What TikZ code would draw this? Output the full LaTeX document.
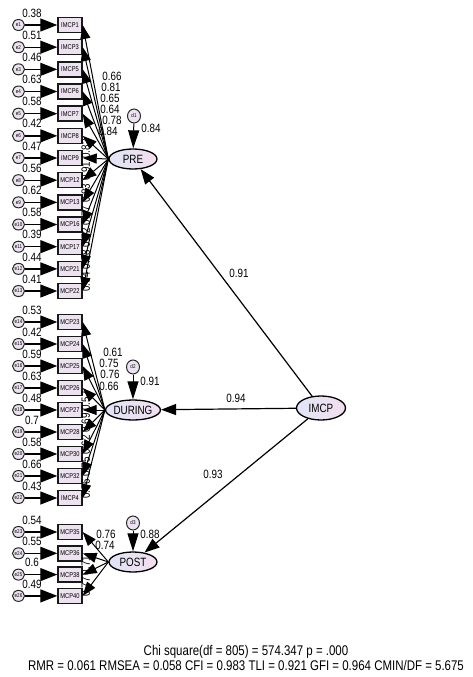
\documentclass[tikz,border=0pt]{standalone}
\usepackage{fontspec}
\setmainfont{Liberation Sans}[FakeStretch=0.82]
\usetikzlibrary{shapes,arrows.meta,positioning}
\definecolor{boxfill}{RGB}{237,226,240}
\definecolor{latblue}{RGB}{224,229,246}
\definecolor{latpink}{RGB}{242,222,238}

\begin{document}
\begin{tikzpicture}[
    x=1pt, y=-1pt,
    indicator/.style={rectangle, draw=black!90, line width=1.4pt, fill=boxfill, minimum width=24pt, minimum height=15pt, inner sep=0pt, font=\fontsize{7}{7}\selectfont},
    errterm/.style={ellipse, draw=black!85, line width=1pt, fill=boxfill, minimum width=12pt, minimum height=11pt, inner sep=0pt, font=\fontsize{5.5}{5.5}\selectfont},
    disturb/.style={errterm, minimum width=13pt, minimum height=14pt},
    latent/.style={ellipse, draw=black, line width=1.3pt, left color=latblue, right color=latpink, minimum width=48pt, minimum height=20pt, inner sep=0pt, font=\fontsize{12}{12}\selectfont},
    coef/.style={font=\fontsize{12}{12}\selectfont, inner sep=0pt},
    errarrow/.style={-{Triangle[length=17pt,width=13pt]}, line width=1.3pt},
    loadarrow/.style={-{Triangle[length=14pt,width=10pt]}, line width=1pt},
    disarrow/.style={-{Triangle[length=18pt,width=11pt]}, line width=1pt},
    patharrow/.style={-{Triangle[length=15pt,width=11pt]}, line width=1.2pt},
]
\useasboundingbox (0,0) rectangle (473,677);

% latent factors
\node[latent] (PRE) at (133,159) {PRE};
\node[latent] (DURING) at (133,410) {DURING};
\node[latent] (POST) at (133,562) {POST};
\node[latent, minimum width=49pt, minimum height=24pt] (IMCP) at (321,408) {IMCP};

% PRE block
\foreach \name/\var [count=\i] in {IMCP1/0.38, IMCP3/0.51, IMCP5/0.46, IMCP6/0.63, IMCP7/0.58, IMCP8/0.42, IMCP9/0.47, MCP12/0.56, MCP13/0.62, MCP16/0.58, MCP17/0.39, MCP21/0.44, MCP22/0.41} {
    \pgfmathsetmacro\ypos{25+22.17*(\i-1)}
    \node[indicator] (pre\i) at (70,\ypos) {\name};
    \node[errterm] (e\i) at (18.5,\ypos) {e\i};
    \node[coef] at (32,\ypos-12) {\var};
    \draw[errarrow] (e\i) -- (pre\i);
    \draw[loadarrow] (PRE.west) -- (pre\i.east);
}
\foreach \val/\lx/\ly in {0.66/112/76, 0.81/111/87, 0.65/110/98, 0.64/110/109, 0.78/112/120, 0.84/108/131}
    \node[coef] at (\lx,\ly) {\val};
\foreach \val/\i in {0.82/7, 0.91/8, 0.83/9, 0.77/10, 0.72/11, 0.68/12, 0.64/13}
    \node[coef, rotate=90] at ([xshift=3pt,yshift=9pt]pre\i.east) {\val};

% DURING block
\foreach \name/\var [count=\i] in {MCP23/0.53, MCP24/0.42, MCP25/0.59, MCP26/0.63, MCP27/0.48, MCP28/0.7, MCP30/0.58, MCP32/0.66, IMCP4/0.43} {
    \pgfmathsetmacro\ypos{322+22*(\i-1)}
    \pgfmathtruncatemacro\k{\i+13}
    \node[indicator] (dur\i) at (70,\ypos) {\name};
    \node[errterm] (e\k) at (18.5,\ypos) {e\k};
    \node[coef] at (32,\ypos-12) {\var};
    \draw[errarrow] (e\k) -- (dur\i);
    \draw[loadarrow] (DURING.west) -- (dur\i.east);
}
\foreach \val/\lx/\ly in {0.61/113/352, 0.75/109/363, 0.76/110/374, 0.66/109/386}
    \node[coef] at (\lx,\ly) {\val};
\foreach \val/\i in {0.57/5, 0.69/6, 0.62/7, 0.75/8, 0.66/9}
    \node[coef, rotate=90] at ([xshift=3pt,yshift=9pt]dur\i.east) {\val};

% POST block
\foreach \name/\var [count=\i] in {MCP35/0.54, MCP36/0.55, MCP38/0.6, MCP40/0.49} {
    \pgfmathsetmacro\ypos{532+21.3*(\i-1)}
    \pgfmathtruncatemacro\k{\i+22}
    \node[indicator] (post\i) at (70,\ypos) {\name};
    \node[errterm] (e\k) at (18.5,\ypos) {e\k};
    \node[coef] at (32,\ypos-12) {\var};
    \draw[errarrow] (e\k) -- (post\i);
    \draw[loadarrow] (POST.west) -- (post\i.east);
}
\foreach \val/\lx/\ly in {0.76/106/534, 0.74/105/545}
    \node[coef] at (\lx,\ly) {\val};
\foreach \val/\i in {0.71/3, 0.77/4}
    \node[coef, rotate=90] at ([xshift=3pt,yshift=9pt]post\i.east) {\val};

% disturbances
\node[disturb] (d1) at (134,116) {d1};
\node[disturb] (d2) at (133,367) {d2};
\node[disturb] (d3) at (133,523) {d3};
\draw[disarrow] (d1) -- (PRE);
\draw[disarrow] (d2) -- (DURING);
\draw[disarrow] (d3) -- (POST);
\node[coef] at (151,128) {0.84};
\node[coef] at (150,381) {0.91};
\node[coef] at (150,534) {0.88};

% second-order paths
\draw[patharrow] (IMCP) -- (PRE);
\draw[patharrow] (IMCP) -- (DURING);
\draw[patharrow] (IMCP) -- (POST);
\node[coef] at (239,273) {0.91};
\node[coef] at (236,398) {0.94};
\node[coef] at (213,474) {0.93};

% fit indices
\node[align=center, font=\fontsize{14}{15}\selectfont] (fit) at (246,658) {Chi square(df = 805) = 574.347 p = .000\\RMR = 0.061 RMSEA = 0.058 CFI = 0.983 TLI = 0.921 GFI = 0.964 CMIN/DF = 5.675};

\end{tikzpicture}
\end{document}
